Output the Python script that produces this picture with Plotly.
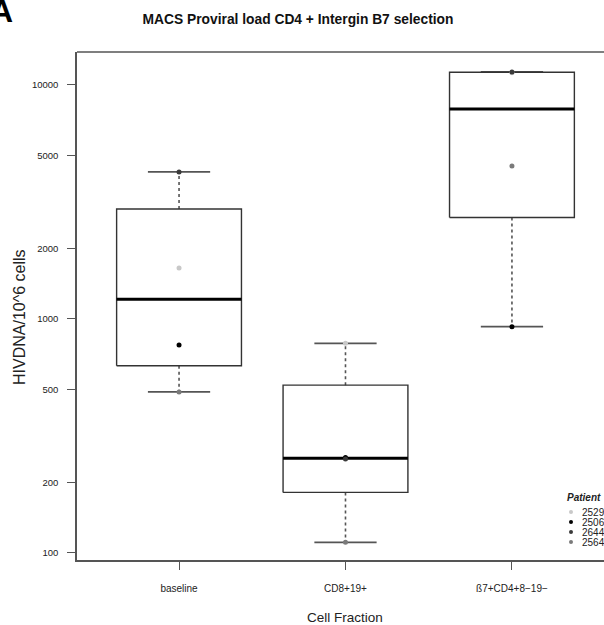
import math
import numpy as np
import plotly.graph_objects as go

# ---------------- data ----------------
categories = ["baseline", "CD8+19+", "ß7+CD4+8−19−"]
patients = ["2529", "2506", "2644", "2564"]
patient_colors = ["#c8c8c8", "#000000", "#3a3a3a", "#7a7a7a"]

p2529 = [1652, 787, 11288]
p2506 = [774, 256, 927]
p2644 = [4250, 252, 11370]
p2564 = [488, 111, 4504]
patient_values = [p2529, p2506, p2644, p2564]

ytick_vals = [100, 200, 500, 1000, 2000, 5000, 10000]

# --------------- layout helpers --------------
W, H = 604, 625
L, R, T, B = 77, 0, 52, 65
PW, PH = W - L - R, H - T - B


def px_to_paper_x(px):
    return (px - L) / PW


def py_to_paper_y(py):
    return (H - B - py) / PH


def fivenum(v):
    v = sorted(v)
    n = len(v)
    n4 = math.floor((n + 3) / 2) / 2
    d = [1, n4, (n + 1) / 2, n + 1 - n4, n]
    return [0.5 * (v[math.floor(x - 1)] + v[math.ceil(x - 1)]) for x in d]


def box_stats(v):
    mn, lh, med, uh, mx = fivenum(v)
    iqr = uh - lh
    inside = [x for x in v if lh - 1.5 * iqr <= x <= uh + 1.5 * iqr]
    return min(inside), lh, med, uh, max(inside)


half_box = 0.375
half_cap = 0.187

box_x, box_y = [], []
med_x, med_y = [], []
wh_x, wh_y = [], []
cap_x, cap_y = [], []
for i, cat in enumerate(categories):
    vals = [pv[i] for pv in patient_values]
    lo, q1, md, q3, hi = box_stats(vals)
    box_x += [i - half_box, i + half_box, i + half_box, i - half_box, i - half_box, None]
    box_y += [q1, q1, q3, q3, q1, None]
    med_x += [i - half_box, i + half_box, None]
    med_y += [md, md, None]
    wh_x += [i, i, None, i, i, None]
    wh_y += [q3, hi, None, q1, lo, None]
    cap_x += [i - half_cap, i + half_cap, None, i - half_cap, i + half_cap, None]
    cap_y += [hi, hi, None, lo, lo, None]

fig = go.Figure()
fig.add_trace(go.Scatter(x=wh_x, y=wh_y, mode="lines",
                         line=dict(color="#555555", width=1.6, dash="dot"),
                         hoverinfo="skip", showlegend=False))
fig.add_trace(go.Scatter(x=cap_x, y=cap_y, mode="lines",
                         line=dict(color="#555555", width=1.8),
                         hoverinfo="skip", showlegend=False))
fig.add_trace(go.Scatter(x=box_x, y=box_y, mode="lines",
                         line=dict(color="#333333", width=1.4),
                         hoverinfo="skip", showlegend=False))
fig.add_trace(go.Scatter(x=med_x, y=med_y, mode="lines",
                         line=dict(color="#000000", width=3),
                         hoverinfo="skip", showlegend=False))

for name, col, vals in zip(patients, patient_colors, patient_values):
    fig.add_trace(go.Scatter(x=list(range(len(categories))), y=vals, mode="markers",
                             marker=dict(color=col, size=5), name=name,
                             showlegend=False))

font_family = "Liberation Sans, Arial, sans-serif"

annotations = []
shapes = []

# manual legend (clipped at the right edge like the reference)
annotations.append(dict(text="<b><i>Patient</i></b>", xref="paper", yref="paper",
                        x=px_to_paper_x(565), y=py_to_paper_y(497),
                        xanchor="left", yanchor="middle", showarrow=False,
                        font=dict(family=font_family, size=10, color="#222222")))
leg_rows = [512, 522, 532, 542]
for name, col, ry in zip(patients, patient_colors, leg_rows):
    annotations.append(dict(text=name, xref="paper", yref="paper",
                            x=px_to_paper_x(580), y=py_to_paper_y(ry),
                            xanchor="left", yanchor="middle", showarrow=False,
                            font=dict(family=font_family, size=10, color="#222222")))
    shapes.append(dict(type="circle", xref="paper", yref="paper",
                       xsizemode="pixel", ysizemode="pixel",
                       xanchor=px_to_paper_x(571), yanchor=py_to_paper_y(ry),
                       x0=-2, x1=2, y0=-2, y1=2,
                       fillcolor=col, line=dict(width=0)))

# top frame line (right side of the panel is cropped off)
shapes.append(dict(type="line", xref="paper", yref="paper", x0=0, x1=1.02, y0=1, y1=1,
                   line=dict(color="#555555", width=1.5)))

# panel letter
annotations.append(dict(text="<b>A</b>", xref="paper", yref="paper",
                        x=px_to_paper_x(15), y=py_to_paper_y(11),
                        xanchor="right", yanchor="middle", showarrow=False,
                        font=dict(family=font_family, size=32, color="#000000")))

# axis titles
annotations.append(dict(text="HIVDNA/10^6 cells", xref="paper", yref="paper",
                        x=px_to_paper_x(19), y=py_to_paper_y(317),
                        xanchor="center", yanchor="middle", textangle=-90,
                        showarrow=False,
                        font=dict(family=font_family, size=16, color="#222222")))
annotations.append(dict(text="Cell Fraction", xref="paper", yref="paper",
                        x=px_to_paper_x(345), y=py_to_paper_y(617),
                        xanchor="center", yanchor="middle",
                        showarrow=False,
                        font=dict(family=font_family, size=13.5, color="#222222")))

fig.update_layout(
    width=W, height=H,
    margin=dict(l=L, r=R, t=T, b=B, pad=0),
    paper_bgcolor="white", plot_bgcolor="white",
    font=dict(family=font_family, color="#222222"),
    title=dict(text="<b>MACS Proviral load CD4 + Intergin B7 selection</b>",
               x=298 / W, xanchor="center", xref="container",
               y=1 - 19 / H, yanchor="middle", yref="container",
               font=dict(family=font_family, size=13.8, color="#111111")),
    annotations=annotations,
    shapes=shapes,
    showlegend=False,
)

fig.update_xaxes(
    range=[-0.613, 2.553],
    tickvals=list(range(len(categories))), ticktext=categories,
    ticks="outside", ticklen=8, tickwidth=1, tickcolor="#555555",
    ticklabelstandoff=10,
    showline=True, linecolor="#555555", linewidth=1.5,
    showgrid=False, zeroline=False,
    tickfont=dict(size=10, color="#222222"),
)
fig.update_yaxes(
    type="log", range=[1.970, 4.141],
    tickvals=ytick_vals, ticktext=[str(v) for v in ytick_vals],
    ticks="outside", ticklen=8, tickwidth=1, tickcolor="#555555",
    ticklabelstandoff=7,
    showline=True, linecolor="#555555", linewidth=1.5,
    showgrid=False, zeroline=False,
    tickfont=dict(size=9.5, color="#222222"),
)

fig.write_html("out.html",
               config={"displayModeBar": False},
               post_script="document.body.style.margin='0';document.body.style.overflow='hidden';")
